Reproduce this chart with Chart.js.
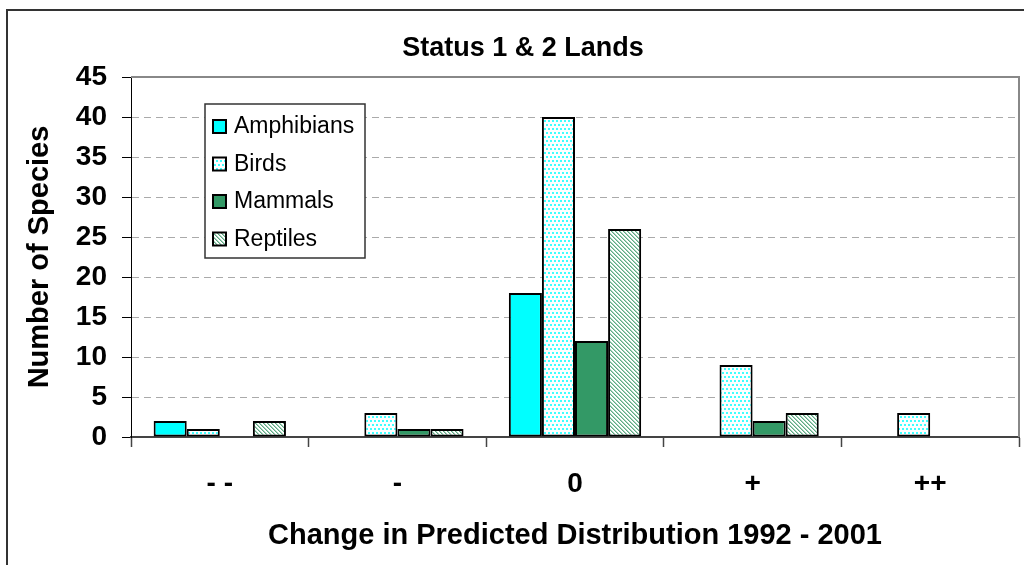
<!DOCTYPE html>
<html lang="en">
<head>
    <meta charset="UTF-8">
    <title>Status 1 &amp; 2 Lands</title>
    <style>
        html, body { margin: 0; padding: 0; background: #fff; }
        .chart-container { width: 1024px; height: 565px; position: relative; }
    </style>
    <script src="https://cdn.jsdelivr.net/npm/chart.js"></script>
</head>
<body>
    <div class="chart-container">
        <canvas id="species-chart"></canvas>
    </div>

    <script>
        // Data
        const categories = ['- -', '-', '0', '+', '++'];
        const amphibians = [2, 0, 18, 0, 0];
        const birds = [1, 3, 40, 9, 3];
        const mammals = [0, 1, 12, 2, 0];
        const reptiles = [2, 1, 26, 3, 0];
        const seriesNames = ['Amphibians', 'Birds', 'Mammals', 'Reptiles'];
        const yTicks = [0, 5, 10, 15, 20, 25, 30, 35, 40, 45];

        const FONT = "'Liberation Sans', Arial, sans-serif";

        // Fill patterns, Excel style
        function dotPattern() {
            const c = document.createElement('canvas');
            c.width = 4; c.height = 8;
            const g = c.getContext('2d');
            g.fillStyle = '#fff';
            g.fillRect(0, 0, 4, 8);
            g.fillStyle = '#40ffff';
            g.fillRect(0, 0, 2, 2);
            g.fillRect(2, 4, 2, 2);
            return g.createPattern(c, 'repeat');
        }

        function stripePattern() {
            const c = document.createElement('canvas');
            c.width = 4; c.height = 4;
            const g = c.getContext('2d');
            g.fillStyle = '#fff';
            g.fillRect(0, 0, 4, 4);
            g.fillStyle = '#5dab83';
            for (let i = 0; i < 4; i++) {
                g.fillRect(i, i, 1, 1);
            }
            g.fillStyle = '#a9d3bd';
            for (let i = 0; i < 4; i++) {
                g.fillRect((i + 1) % 4, i, 1, 1);
            }
            return g.createPattern(c, 'repeat');
        }

        const fills = ['#00ffff', dotPattern(), '#339966', stripePattern()];
        const values = [amphibians, birds, mammals, reptiles];

        const datasets = seriesNames.map((name, i) => ({
            label: name,
            data: values[i],
            backgroundColor: fills[i],
            borderColor: '#000',
            borderWidth: 2,
            borderSkipped: false,
            barPercentage: 1.0,
            categoryPercentage: 0.745
        }));

        const framePlugin = {
            id: 'frame',
            beforeDraw(chart) {
                const ctx = chart.ctx;
                ctx.save();
                ctx.fillStyle = '#fff';
                ctx.fillRect(0, 0, chart.width, chart.height);
                ctx.strokeStyle = '#333';
                ctx.lineWidth = 2;
                ctx.beginPath();
                ctx.moveTo(7, chart.height);
                ctx.lineTo(7, 10);
                ctx.lineTo(chart.width, 10);
                ctx.stroke();
                ctx.restore();
            },
            afterDraw(chart) {
                const ctx = chart.ctx;
                const area = chart.chartArea;
                ctx.save();

                // plot area border (top and right)
                ctx.strokeStyle = '#888';
                ctx.lineWidth = 2;
                ctx.beginPath();
                ctx.moveTo(area.left, area.top);
                ctx.lineTo(area.right, area.top);
                ctx.lineTo(area.right, area.bottom);
                ctx.stroke();

                // title
                ctx.fillStyle = '#000';
                ctx.font = `bold 27px ${FONT}`;
                ctx.textAlign = 'center';
                ctx.textBaseline = 'alphabetic';
                ctx.fillText('Status 1 & 2 Lands', 523, 56);

                // legend box
                const lx = 205, ly = 104, lw = 160, lh = 154;
                ctx.fillStyle = '#fff';
                ctx.fillRect(lx, ly, lw, lh);
                ctx.strokeStyle = '#333';
                ctx.lineWidth = 1.5;
                ctx.strokeRect(lx, ly, lw, lh);

                ctx.font = `23px ${FONT}`;
                ctx.textAlign = 'left';
                ctx.textBaseline = 'middle';
                chart.data.datasets.forEach((ds, i) => {
                    const cy = 126 + i * 37.5;
                    ctx.fillStyle = ds.backgroundColor;
                    ctx.fillRect(213, cy - 6, 13, 13);
                    ctx.strokeStyle = '#000';
                    ctx.lineWidth = 2;
                    ctx.strokeRect(213, cy - 6, 13, 13);
                    ctx.fillStyle = '#000';
                    ctx.fillText(ds.label, 234, cy + 1);
                });
                ctx.restore();
            }
        };

        const chart = new Chart(document.getElementById('species-chart'), {
            type: 'bar',
            data: { labels: categories, datasets: datasets },
            options: {
                responsive: true,
                maintainAspectRatio: false,
                animation: false,
                layout: { padding: { top: 77, right: 5, left: 0, bottom: 0 } },
                plugins: {
                    legend: { display: false },
                    title: { display: false },
                    tooltip: { enabled: false }
                },
                scales: {
                    x: {
                        afterFit(scale) { scale.height = 128; },
                        grid: {
                            offset: true,
                            drawOnChartArea: false,
                            drawTicks: true,
                            tickLength: 10,
                            tickColor: '#444',
                            tickWidth: 1.5
                        },
                        border: { color: '#444', width: 2 },
                        ticks: {
                            color: '#000',
                            padding: 20,
                            font: { family: FONT, size: 28, weight: 'bold' }
                        },
                        title: {
                            display: true,
                            text: 'Change in Predicted Distribution 1992 - 2001',
                            color: '#000',
                            padding: { top: 0, bottom: 12 },
                            font: { family: FONT, size: 29, weight: 'bold' }
                        }
                    },
                    y: {
                        min: 0,
                        max: 45,
                        afterFit(scale) { scale.width = 131; },
                        afterBuildTicks(scale) {
                            scale.ticks = yTicks.map(v => ({ value: v }));
                        },
                        grid: {
                            color: '#aaa',
                            lineWidth: 1,
                            tickLength: 9,
                            tickColor: '#000',
                            tickBorderDash: []
                        },
                        border: { color: '#000', width: 1, dash: [7, 5] },
                        ticks: {
                            color: '#000',
                            padding: 15,
                            font: { family: FONT, size: 28, weight: 'bold' }
                        },
                        title: {
                            display: true,
                            text: 'Number of Species',
                            color: '#000',
                            padding: { top: 23, bottom: 0 },
                            font: { family: FONT, size: 29, weight: 'bold' }
                        }
                    }
                }
            },
            plugins: [framePlugin]
        });
    </script>
</body>
</html>
